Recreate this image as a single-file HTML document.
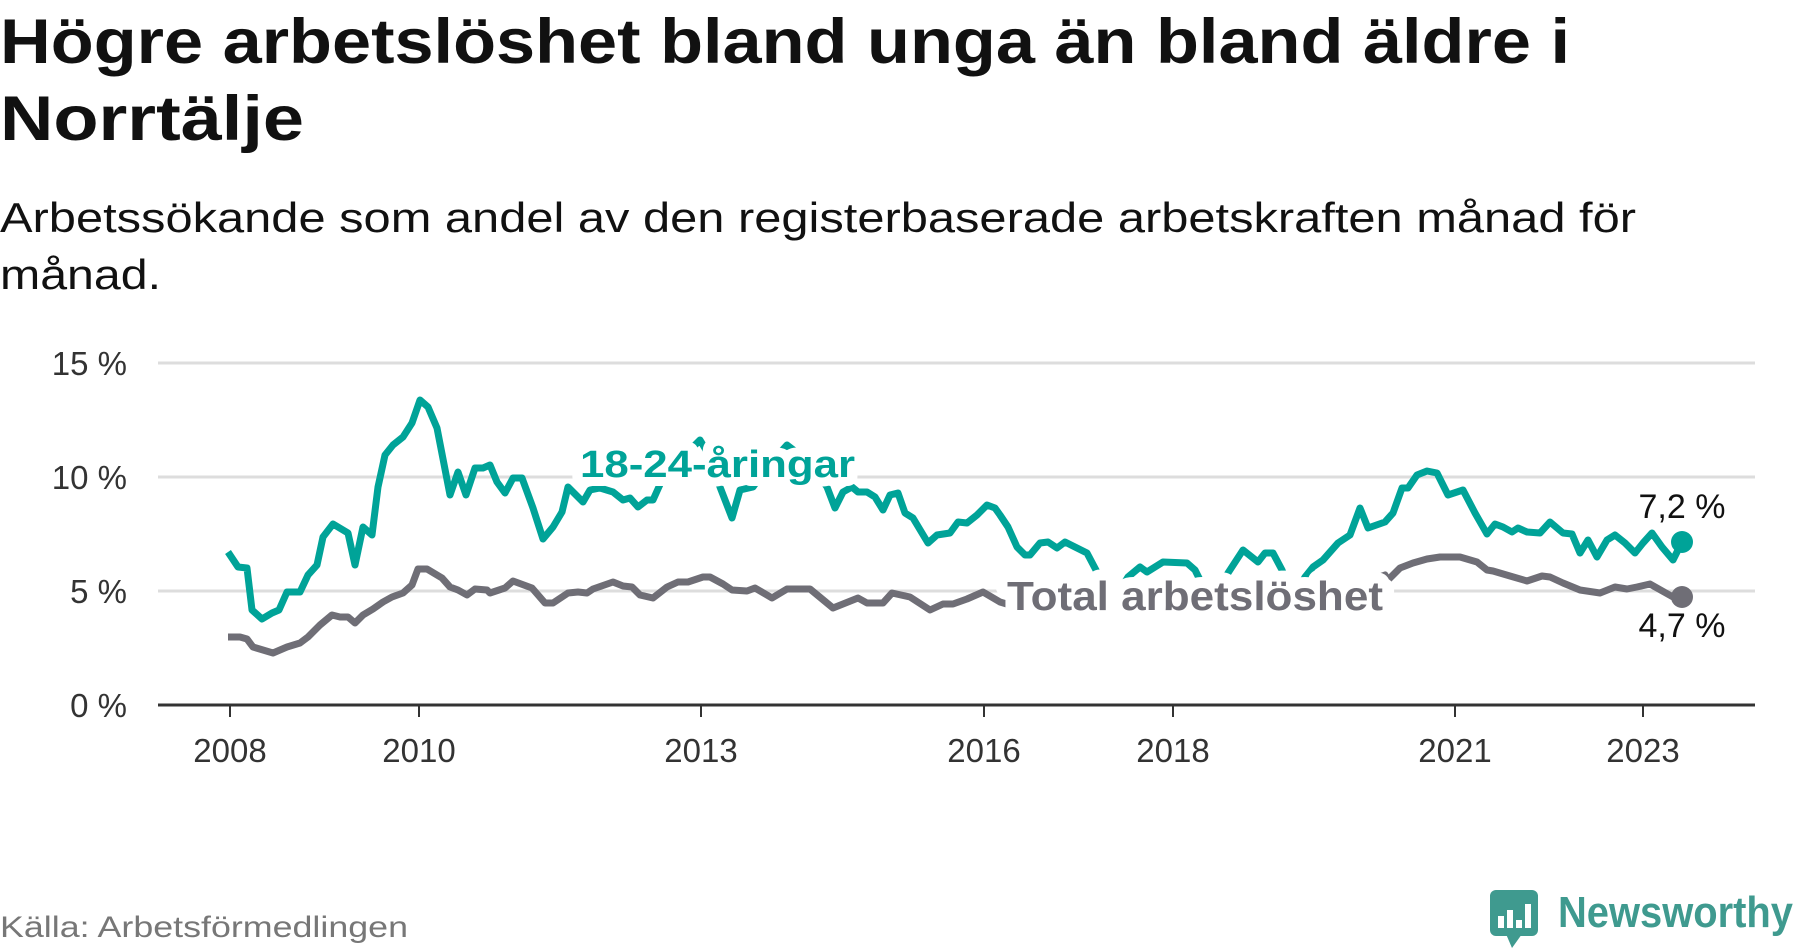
<!DOCTYPE html>
<html><head><meta charset="utf-8"><style>
html,body{margin:0;padding:0;background:#fff;}
svg{display:block;font-family:"Liberation Sans",sans-serif;}
</style></head><body>
<svg width="1800" height="948" viewBox="0 0 1800 948">
<text x="0" y="63" font-size="63" font-weight="bold" fill="#111" textLength="1570" lengthAdjust="spacingAndGlyphs">Högre arbetslöshet bland unga än bland äldre i</text>
<text x="0" y="140" font-size="63" font-weight="bold" fill="#111" textLength="304" lengthAdjust="spacingAndGlyphs">Norrtälje</text>
<text x="0" y="232" font-size="42" fill="#111" textLength="1636" lengthAdjust="spacingAndGlyphs">Arbetssökande som andel av den registerbaserade arbetskraften månad för</text>
<text x="0" y="289" font-size="42" fill="#111" textLength="161" lengthAdjust="spacingAndGlyphs">månad.</text>

<g stroke="#ddd" stroke-width="3">
<line x1="158" y1="363" x2="1755" y2="363"/>
<line x1="158" y1="477" x2="1755" y2="477"/>
<line x1="158" y1="591" x2="1755" y2="591"/>
</g>
<g font-size="33" fill="#333" text-anchor="end">
<text x="127" y="375">15 %</text>
<text x="127" y="489">10 %</text>
<text x="127" y="603">5 %</text>
<text x="127" y="717">0 %</text>
</g>
<line x1="158" y1="705" x2="1755" y2="705" stroke="#333" stroke-width="3"/>
<g stroke="#333" stroke-width="2">
<line x1="230" y1="705" x2="230" y2="717"/>
<line x1="419" y1="705" x2="419" y2="717"/>
<line x1="701" y1="705" x2="701" y2="717"/>
<line x1="984" y1="705" x2="984" y2="717"/>
<line x1="1173" y1="705" x2="1173" y2="717"/>
<line x1="1455" y1="705" x2="1455" y2="717"/>
<line x1="1643" y1="705" x2="1643" y2="717"/>
</g>
<g font-size="33" fill="#333" text-anchor="middle">
<text x="230" y="762">2008</text>
<text x="419" y="762">2010</text>
<text x="701" y="762">2013</text>
<text x="984" y="762">2016</text>
<text x="1173" y="762">2018</text>
<text x="1455" y="762">2021</text>
<text x="1643" y="762">2023</text>
</g>

<polyline fill="none" stroke="#6f6e76" stroke-width="7" stroke-linejoin="round" points="228,637 240,637 247,639 253,647 273,653 287,647 300,643 308,637 320,625 332,615 340,617 348,617 355,623 363,615 373,609 383,602 392,597 403,593 412,585 418,569 427,569 442,578 450,587 458,590 467,595 475,589 487,590 490,593 505,588 513,581 532,588 545,603 553,603 568,593 578,592 587,593 593,589 613,582 623,586 632,587 640,595 653,598 667,587 678,582 688,582 703,577 710,577 723,584 732,590 747,591 755,588 772,598 787,589 810,589 833,608 858,598 867,603 883,603 892,593 910,597 930,610 943,604 953,604 967,599 983,592 1000,602 1010,605 1100,612 1200,610 1300,605 1385,575 1388,580 1400,568 1413,563 1427,559 1440,557 1460,557 1477,562 1487,570 1493,571 1510,576 1527,581 1542,576 1550,577 1563,583 1580,590 1600,593 1615,587 1627,589 1637,587 1650,584 1673,597 1682,597"/>
<polyline fill="none" stroke="#00a398" stroke-width="7" stroke-linejoin="round" points="228,552 238,567 247,568 252,610 262,619 272,613 279,610 287,592 300,592 308,575 317,565 323,537 333,524 348,533 355,565 363,527 372,535 378,487 385,455 393,445 403,437 412,423 420,400 428,407 437,428 450,495 458,472 466,495 475,468 483,468 490,465 497,482 505,493 513,478 522,478 533,508 543,539 553,527 562,512 568,487 583,502 590,490 600,488 613,492 623,500 630,498 638,507 647,500 653,500 662,480 675,460 690,450 700,440 712,460 720,487 732,518 740,490 753,487 765,470 778,455 787,445 800,455 815,470 827,487 835,508 843,492 852,487 858,492 867,492 875,497 883,510 890,495 898,493 905,513 913,518 928,543 937,535 950,533 958,522 967,523 977,515 987,505 995,508 1000,515 1008,527 1017,547 1025,555 1030,555 1040,543 1048,542 1057,548 1065,542 1075,547 1087,553 1097,572 1110,590 1120,590 1128,577 1140,567 1147,572 1163,562 1187,563 1195,570 1200,580 1212,595 1220,590 1228,573 1243,550 1258,562 1265,553 1273,553 1282,570 1290,592 1298,590 1305,577 1313,567 1323,560 1338,543 1350,535 1360,508 1368,528 1385,522 1393,513 1402,488 1408,488 1417,475 1427,471 1437,473 1448,495 1463,490 1475,513 1487,534 1495,524 1503,527 1512,532 1518,528 1527,532 1540,533 1550,522 1563,533 1572,534 1580,553 1588,540 1597,557 1607,540 1615,535 1625,543 1635,553 1643,543 1652,533 1662,547 1673,560 1682,542"/>
<circle cx="1682" cy="542" r="11" fill="#00a398"/>
<circle cx="1682" cy="597" r="11" fill="#6f6e76"/>

<text x="580" y="477" font-size="38" font-weight="bold" fill="#00a398" stroke="#fff" stroke-width="18" paint-order="stroke" stroke-linejoin="round" textLength="275" lengthAdjust="spacingAndGlyphs">18-24-åringar</text>
<text x="1007" y="610" font-size="41" font-weight="bold" fill="#6f6e76" stroke="#fff" stroke-width="22" paint-order="stroke" stroke-linejoin="round" textLength="376" lengthAdjust="spacingAndGlyphs">Total arbetslöshet</text>
<text x="1682" y="518" font-size="34" fill="#111" text-anchor="middle">7,2 %</text>
<text x="1682" y="637" font-size="34" fill="#111" text-anchor="middle">4,7 %</text>

<text x="0" y="937" font-size="30" fill="#777" textLength="408" lengthAdjust="spacingAndGlyphs">Källa: Arbetsförmedlingen</text>
<g>
<rect x="1490" y="890" width="48" height="46" rx="6" fill="#3f9a8f"/>
<polygon points="1506,934 1522,934 1512,948" fill="#3f9a8f"/>
<rect x="1498" y="916" width="6" height="12" fill="#fff"/>
<rect x="1507" y="910" width="6" height="18" fill="#fff"/>
<rect x="1516" y="920" width="6" height="8" fill="#fff"/>
<rect x="1525" y="904" width="6" height="24" fill="#fff"/>
</g>
<text x="1558" y="927" font-size="44" font-weight="bold" fill="#3f9a8f" textLength="235" lengthAdjust="spacingAndGlyphs">Newsworthy</text>
</svg>
</body></html>
